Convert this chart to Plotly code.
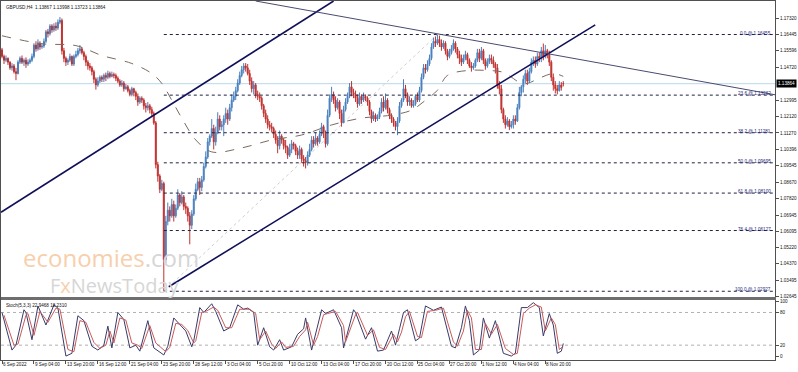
import plotly.graph_objects as go

# ---------------- data ----------------
SYMBOL_TEXT = "GBPUSD,H4  1.13867 1.13998 1.13723 1.13864"
STOCH_TEXT = "Stoch(5,3,3) 22.9468 18.2310"
LAST_PRICE = 1.13864
OPEN0 = 11565  # first bar open, in pips (x 1e-4)

CLOSE = [
11530,11510,11520,
11500,11470,11480,11450,11440,11500,
11520,11500,11510,11490,11500,11510,
11530,11590,11570,11600,11580,11585,
11610,11660,11650,11690,11670,11690,
11680,11710,11720,11560,11520,11500,
11510,11530,11490,11530,11540,11560,
11570,11550,11530,11500,11480,11470,
11450,11410,11380,11400,11420,11410,
11430,11420,11440,11425,11435,11430,
11415,11400,11380,11390,11360,11370,
11350,11330,11360,11340,11320,11290,
11310,11300,11270,11260,11270,11250,
11230,11180,10960,10900,10830,10860,
10460,10660,10720,10690,10750,10690,
10730,10800,10760,10790,10740,10730,
10690,10640,10700,10780,10830,10870,
10840,10880,10950,11000,11080,11110,
11150,11080,11130,11200,11160,11170,
11200,11230,11200,11260,11300,11320,
11350,11390,11430,11460,11480,11470,
11440,11400,11360,11380,11330,11320,
11310,11270,11230,11200,11170,11160,
11150,11120,11090,11060,11110,11090,
11060,11050,11010,11040,11070,11060,
11030,11010,11040,10990,10980,10970,
11010,11040,11090,11070,11100,11080,
11120,11160,11130,11070,11220,11310,
11330,11300,11260,11290,11230,11180,
11250,11290,11320,11370,11340,11330,
11310,11280,11320,11300,11320,11310,
11290,11240,11200,11220,11200,11210,
11240,11290,11260,11300,11250,11220,
11200,11180,11160,11190,11270,11300,
11360,11330,11290,11300,11270,11280,
11320,11300,11350,11420,11470,11460,
11490,11520,11580,11610,11600,11620,
11600,11580,11600,11560,11530,11550,
11570,11600,11570,11540,11520,11500,
11520,11540,11510,11480,11470,11480,
11510,11550,11520,11560,11510,11480,
11500,11520,11510,11490,11470,11380,
11360,11250,11200,11170,11190,11160,
11170,11200,11190,11260,11340,11370,
11410,11440,11400,11450,11500,11510,
11490,11530,11520,11560,11530,11560,
11540,11500,11420,11380,11360,11350,
11380,11367,11386,
]

HIGH = [
11575,11540,11535,
11525,11505,11495,11490,11470,11510,
11530,11535,11520,11525,11515,11520,
11545,11600,11610,11620,11610,11600,
11625,11670,11675,11700,11700,11705,
11710,11725,11738,11730,11575,11530,
11520,11545,11535,11540,11560,11575,
11590,11580,11560,11540,11510,11495,
11480,11460,11420,11420,11430,11430,
11440,11445,11455,11450,11450,11445,
11440,11425,11410,11405,11400,11385,
11380,11360,11370,11365,11350,11335,
11320,11320,11310,11285,11290,11280,
11265,11240,11190,10975,10910,10880,
10870,10690,10760,10740,10780,10770,
10750,10830,10810,10820,10800,10760,
10740,10710,10720,10800,10860,10890,
10890,10900,10970,11030,11100,11120,
11200,11170,11160,11236,11220,11190,
11220,11260,11250,11280,11330,11345,
11370,11410,11450,11480,11495,11495,
11490,11460,11420,11400,11390,11350,
11340,11320,11280,11250,11220,11190,
11180,11160,11140,11110,11140,11120,
11100,11090,11060,11070,11090,11080,
11070,11050,11060,11050,11010,11000,
11030,11070,11110,11110,11130,11110,
11140,11180,11170,11140,11250,11330,
11370,11345,11320,11310,11300,11250,
11270,11310,11340,11390,11400,11360,
11350,11330,11340,11330,11340,11330,
11320,11300,11250,11240,11230,11225,
11260,11310,11320,11335,11310,11260,
11230,11210,11190,11210,11290,11310,
11410,11380,11340,11320,11310,11300,
11330,11340,11370,11440,11490,11490,
11510,11540,11600,11630,11635,11645,
11640,11620,11615,11610,11570,11570,
11590,11620,11610,11580,11560,11540,
11540,11560,11550,11520,11500,11495,
11520,11570,11570,11580,11570,11520,
11520,11540,11540,11530,11500,11490,
11400,11380,11260,11220,11210,11200,
11190,11220,11220,11280,11370,11380,
11430,11460,11460,11470,11520,11530,
11530,11550,11550,11580,11598,11590,
11570,11560,11510,11440,11400,11380,
11400,11395,11400,
]

LOW = [
11520,11490,11500,
11485,11460,11455,11440,11405,11435,
11490,11490,11480,11470,11480,11490,
11500,11520,11555,11560,11565,11570,
11575,11600,11630,11640,11655,11660,
11665,11670,11700,11540,11500,11480,
11485,11500,11480,11480,11520,11530,
11545,11540,11510,11480,11460,11455,
11430,11390,11355,11370,11390,11395,
11395,11400,11410,11415,11420,11415,
11400,11390,11370,11370,11345,11355,
11340,11320,11320,11320,11300,11270,
11280,11285,11250,11235,11245,11230,
11215,11170,10940,10870,10810,10820,
10293,10440,10640,10660,10680,10660,
10680,10720,10740,10750,10720,10700,
10660,10540,10620,10690,10770,10820,
10800,10820,10870,10940,10990,11060,
11100,11040,11060,11120,11140,11140,
11110,11180,11170,11190,11240,11290,
11300,11340,11380,11420,11440,11450,
11430,11380,11340,11330,11310,11300,
11290,11250,11210,11180,11150,11140,
11130,11100,11070,11020,11040,11070,
11040,11020,10990,11000,11020,11040,
11010,10990,10990,10970,10950,10940,
10955,11000,11030,11050,11060,11060,
11070,11110,11100,11050,11060,11210,
11290,11280,11240,11250,11200,11160,
11180,11240,11280,11310,11320,11310,
11290,11260,11270,11280,11290,11295,
11270,11220,11180,11190,11185,11190,
11200,11230,11240,11250,11230,11200,
11180,11160,11140,11115,11180,11260,
11290,11310,11270,11270,11260,11260,
11270,11290,11290,11340,11410,11440,
11450,11480,11510,11570,11580,11590,
11580,11560,11570,11540,11510,11520,
11540,11560,11550,11520,11490,11480,
11490,11510,11490,11470,11450,11460,
11470,11500,11500,11510,11490,11460,
11470,11490,11490,11470,11440,11360,
11330,11230,11180,11150,11160,11142,
11150,11150,11170,11185,11250,11320,
11340,11390,11380,11390,11440,11480,
11470,11480,11500,11500,11510,11520,
11520,11480,11400,11350,11335,11330,
11345,11350,11372,
]

# moving average (dashed) sampled at bar indices
MA_IDX = [0, 20, 37, 50, 65, 75, 80, 85, 90, 97, 105, 120, 135, 150, 165, 180, 195,
          205, 212, 218, 223, 233, 243, 251, 260, 263, 270, 276, 281]
MA_VAL = [1.1639, 1.1597, 1.1587, 1.1535, 1.1493, 1.1440, 1.1388, 1.1299, 1.1205, 1.1090,
          1.1027, 1.1048, 1.1090, 1.1116, 1.1169, 1.1205, 1.1221, 1.1247, 1.1299, 1.1352,
          1.1430, 1.1456, 1.1456, 1.1446, 1.1388, 1.1388, 1.1420, 1.1440, 1.1425]

# Stochastic %K and %D (bar index, value)
STOCH_K = [(0,80),(5,11),(7,20),(11,85),(12,80),(15,30),(18,92),(22,57),(26,94),(28,88),
           (32,0),(35,5),(38,74),(41,65),(45,18),(48,11),(51,20),(53,55),(55,15),(58,80),
           (61,67),(64,15),(67,20),(69,9),(73,65),(76,15),(81,2),(83,18),(86,70),(89,57),
           (92,46),(95,17),(96,28),(99,89),(101,80),(105,96),(107,82),(111,46),(114,52),
           (118,94),(121,86),(123,88),(126,80),(128,20),(131,52),(134,17),(136,11),(139,30),
           (141,11),(145,17),(148,40),(151,50),(152,70),(155,11),(157,40),(160,85),(162,78),
           (166,85),(170,52),(171,15),(176,85),(177,80),(182,31),(185,52),(188,9),(191,11),
           (195,46),(197,20),(199,50),(201,80),(203,85),(207,28),(209,33),(212,92),(216,84),
           (220,90),(225,18),(227,15),(230,52),(232,92),(234,65),(236,2),(239,11),(241,70),
           (244,33),(247,65),(251,5),(255,0),(257,5),(260,89),(263,89),(266,98),(269,89),
           (271,37),(274,78),(276,57),(278,5),(280,9),(281,23)]
STOCH_D = [(1,75),(6,20),(8,22),(12,75),(13,78),(16,38),(19,82),(23,62),(27,88),(29,86),
           (33,12),(36,8),(39,65),(42,62),(46,25),(49,14),(52,20),(54,46),(56,24),(59,70),
           (62,66),(65,24),(68,20),(70,14),(74,56),(77,24),(82,8),(84,16),(87,60),(90,58),
           (93,47),(96,24),(97,28),(100,80),(102,82),(106,90),(108,84),(112,52),(115,52),
           (119,86),(122,86),(124,86),(127,78),(129,30),(132,46),(135,22),(137,14),(140,26),
           (142,16),(146,18),(149,36),(152,48),(153,62),(156,20),(158,36),(161,76),(163,78),
           (167,82),(171,56),(172,26),(177,76),(178,80),(183,38),(186,48),(189,16),(192,12),
           (196,40),(198,26),(200,44),(202,72),(204,82),(208,36),(210,34),(213,82),(217,84),
           (221,88),(226,26),(228,18),(231,46),(233,84),(235,70),(237,12),(240,12),(242,60),
           (245,40),(248,58),(252,14),(256,3),(258,5),(261,78),(264,88),(267,94),(270,90),
           (272,46),(275,70),(277,58),(279,12),(281,18)]

# Fibonacci retracement levels
FIB_NAMES = ["0.0", "23.6", "38.2", "50.0", "61.8", "76.4", "100.0"]
FIB_PRICES = [1.16455, 1.13262, 1.11281, 1.09695, 1.08100, 1.06127, 1.02927]
FIB_START = 81      # bar of the swing low
FIB_HIGH_BAR = 218  # bar of the swing high

# drawn trend lines (bar index, price)
CH_UPPER = [(-0.5, 1.07088), (166, 1.18222)]
CH_LOWER = [(83.5, 1.03167), (297, 1.16967)]
TL_DOWN = [(127, 1.18222), (387, 1.13282)]

# axis ticks
Y_TICKS = [1.17320, 1.16445, 1.15596, 1.14720, 1.12995, 1.12120, 1.11270, 1.10396,
           1.09545, 1.08670, 1.07820, 1.06945, 1.06095, 1.05220, 1.04370, 1.03495, 1.02645]
X_TICK_IDX = [0, 16, 32, 48, 64, 80, 96, 112, 128, 144, 160, 176, 192, 208, 224, 240, 256, 272]
X_TICK_TEXT = ["6 Sep 2022", "9 Sep 04:00", "13 Sep 20:00", "16 Sep 12:00", "21 Sep 04:00",
               "23 Sep 20:00", "28 Sep 12:00", "3 Oct 04:00", "5 Oct 20:00", "10 Oct 12:00",
               "13 Oct 04:00", "17 Oct 20:00", "20 Oct 12:00", "25 Oct 04:00", "27 Oct 20:00",
               "1 Nov 12:00", "4 Nov 04:00", "8 Nov 20:00"]
STOCH_TICKS = [0, 20, 80, 100]

# ---------------- figure ----------------
W, H = 798, 372
def px(x): return x / W
def py(y): return 1 - y / H

n = len(CLOSE)
idx = list(range(n))
opens = [OPEN0] + CLOSE[:-1]
o = [v / 1e4 for v in opens]
c = [v / 1e4 for v in CLOSE]
hi = [max(HIGH[i], opens[i], CLOSE[i]) / 1e4 for i in range(n)]
lo = [min(LOW[i], opens[i], CLOSE[i]) / 1e4 for i in range(n)]
o[-1] = 1.13867; hi[-1] = 1.13998; lo[-1] = 1.13723; c[-1] = LAST_PRICE

BLUE = "#4a80bd"
RED = "#c0302e"
NAVY = "#10105a"
FONT = "Liberation Sans"
FS = 4.6

fig = go.Figure()
fig.add_trace(go.Candlestick(
    x=idx, open=o, high=hi, low=lo, close=c, xaxis="x", yaxis="y",
    increasing=dict(line=dict(color=BLUE, width=1), fillcolor=BLUE),
    decreasing=dict(line=dict(color=RED, width=1), fillcolor=RED),
    whiskerwidth=0, showlegend=False, hoverinfo="skip"))

fig.add_trace(go.Scatter(x=MA_IDX, y=MA_VAL, mode="lines", line=dict(color="#7a6a60", width=1, dash="dash", shape="spline"),
                         xaxis="x", yaxis="y", showlegend=False, hoverinfo="skip"))

fig.add_trace(go.Scatter(x=[p[0] for p in STOCH_K], y=[p[1] for p in STOCH_K], mode="lines",
                         line=dict(color="#3a3a68", width=1), xaxis="x2", yaxis="y2", showlegend=False, hoverinfo="skip"))
fig.add_trace(go.Scatter(x=[p[0] for p in STOCH_D], y=[p[1] for p in STOCH_D], mode="lines",
                         line=dict(color="#c85a5a", width=1), xaxis="x2", yaxis="y2", showlegend=False, hoverinfo="skip"))

XR = [-0.5, 387]
shapes = []
# current price line
shapes.append(dict(type="line", xref="x", yref="y", x0=XR[0], x1=XR[1], y0=LAST_PRICE, y1=LAST_PRICE,
                   line=dict(color="#b8d8ec", width=1), layer="below"))
# fib diagonal
shapes.append(dict(type="line", xref="x", yref="y", x0=FIB_START, y0=FIB_PRICES[-1], x1=FIB_HIGH_BAR, y1=FIB_PRICES[0],
                   line=dict(color="#cfcfcf", width=1, dash="dot"), layer="below"))
for p in FIB_PRICES:
    shapes.append(dict(type="line", xref="x", yref="y", x0=FIB_START, x1=XR[1], y0=p, y1=p,
                       line=dict(color="#202040", width=1, dash="dot")))
for ln, col, wd in [(CH_UPPER, NAVY, 1.6), (CH_LOWER, NAVY, 1.6), (TL_DOWN, "#4a4a70", 1)]:
    shapes.append(dict(type="line", xref="x", yref="y", x0=ln[0][0], y0=ln[0][1], x1=ln[1][0], y1=ln[1][1],
                       line=dict(color=col, width=wd)))
# stochastic levels
for v in (20, 80):
    shapes.append(dict(type="line", xref="x2", yref="y2", x0=XR[0], x1=XR[1], y0=v, y1=v,
                       line=dict(color="#b0b0b0", width=1, dash="dot"), layer="below"))
# separator between panels
shapes.append(dict(type="rect", xref="paper", yref="paper", x0=0, x1=px(776), y0=py(301.5), y1=py(298.5),
                   fillcolor="#6e6e6e", line=dict(width=0)))

ann = []
ann.append(dict(xref="paper", yref="paper", x=px(3), y=py(2), xanchor="left", yanchor="top", showarrow=False,
                text=SYMBOL_TEXT, font=dict(family=FONT, size=FS, color="#111")))
ann.append(dict(xref="paper", yref="paper", x=px(3), y=py(302.5), xanchor="left", yanchor="top", showarrow=False,
                text=STOCH_TEXT, font=dict(family=FONT, size=FS, color="#111")))
for name, p in zip(FIB_NAMES, FIB_PRICES):
    ann.append(dict(xref="x", yref="y", x=386, y=p, xanchor="right", yanchor="bottom", showarrow=False,
                    text=f"{name} @ {p:.5f}", font=dict(family=FONT, size=4.6, color="#1c1c78"), yshift=-3))
ann.append(dict(xref="paper", yref="y", x=px(776), y=LAST_PRICE, xanchor="left", yanchor="middle", showarrow=False,
                text=f"{LAST_PRICE:.5f}", bgcolor="#000", borderpad=1, font=dict(family=FONT, size=4.6, color="#fff")))
for i, t in zip(X_TICK_IDX, X_TICK_TEXT):
    ann.append(dict(xref="x2", yref="paper", x=i, y=py(366.5), xanchor="left", yanchor="middle", showarrow=False,
                    text=t, xshift=-1, font=dict(family=FONT, size=FS, color="#111")))
# watermark
ann.append(dict(xref="paper", yref="paper", x=px(20), y=py(259), xanchor="left", yanchor="middle", showarrow=False,
                text="<span style='color:#f7cfac'>economies</span><span style='color:#d6d6d6'>.com</span>",
                font=dict(family="Open Sans", size=24)))
ann.append(dict(xref="paper", yref="paper", x=px(47), y=py(287), xanchor="left", yanchor="middle", showarrow=False,
                text="<span style='color:#d6d6d6'>F</span><span style='color:#f7cfac'>x</span><span style='color:#d6d6d6'>NewsToday</span>",
                font=dict(family="Open Sans", size=20)))

axis_common = dict(showgrid=False, zeroline=False, showline=True, linecolor="#505050", linewidth=1, mirror=True)
fig.update_layout(
    width=W, height=H, margin=dict(l=0, r=0, t=0, b=0),
    paper_bgcolor="#ffffff", plot_bgcolor="#ffffff",
    showlegend=False, shapes=shapes, annotations=ann,
    xaxis=dict(domain=[0, px(775)], range=XR, showticklabels=False, rangeslider=dict(visible=False),
               anchor="y", **axis_common),
    yaxis=dict(domain=[py(299), 1], range=[1.02593, 1.18222], side="right", anchor="x",
               tickvals=Y_TICKS, ticktext=[f"{v:.5f}" for v in Y_TICKS], ticks="outside", ticklen=3,
               tickcolor="#505050", tickfont=dict(family=FONT, size=FS, color="#111"), **axis_common),
    xaxis2=dict(domain=[0, px(775)], range=XR, anchor="y2", tickvals=X_TICK_IDX, ticks="outside", ticklen=3,
                tickcolor="#505050", showticklabels=False, **axis_common),
    yaxis2=dict(domain=[py(362), py(301)], range=[-7.4, 103.7], side="right", anchor="x2",
                tickvals=STOCH_TICKS, ticks="outside", ticklen=3, tickcolor="#505050",
                tickfont=dict(family=FONT, size=FS, color="#111"), **axis_common),
)

fig.write_html("out.html", config=dict(displayModeBar=False))
